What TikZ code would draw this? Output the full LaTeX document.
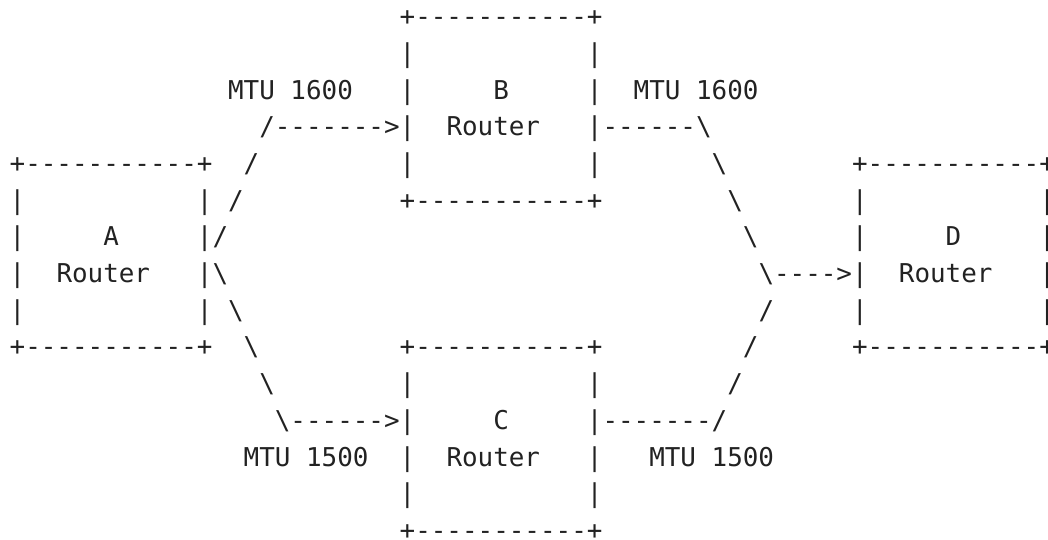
\documentclass[tikz,border=0pt]{standalone}
\usepackage{fontspec}
\setmonofont{DejaVu Sans Mono}
\definecolor{ink}{HTML}{222222}

% one character cell is 1 x 1, rows count downwards
\tikzset{
  ascii/.style={anchor=base west,inner sep=0pt,outer sep=0pt,text=ink,
    font=\ttfamily\fontsize{19.43}{23}\selectfont},
  router/.pic={
    \node[ascii] (-top) at (0,0) {+-----------+};
    \foreach \r in {1,...,4} {
      \node[ascii] (-l\r) at (0,\r) {|};
      \node[ascii] (-r\r) at (12,\r) {|};
    }
    \node[ascii] (-name) at (6,2) {#1};
    \node[ascii] (-kind) at (3,3) {Router};
    \node[ascii] (-bottom) at (0,5) {+-----------+};
  }
}

\begin{document}
\begin{tikzpicture}[x=11.7pt,y=-27.525pt]
  \useasboundingbox (-0.622,-0.698) rectangle (66.558,13.989);

  % the four routers
  \pic (boxA) at (0,4) {router=A};
  \pic (boxB) at (25,0) {router=B};
  \pic (boxC) at (25,9) {router=C};
  \pic (boxD) at (54,4) {router=D};

  % A -> B -> D
  \node[ascii] (ab) at (16,3) {/------->};
  \foreach \c/\r in {15/4,14/5,13/6}
    \node[ascii] (ab\r) at (\c,\r) {/};
  \node[ascii] (bd) at (38,3) {------\textbackslash};
  \foreach \c/\r in {45/4,46/5,47/6}
    \node[ascii] (bd\r) at (\c,\r) {\textbackslash};
  \node[ascii] (bdin) at (48,7) {\textbackslash---->};

  % A -> C -> D
  \foreach \c/\r in {13/7,14/8,15/9,16/10}
    \node[ascii] (ac\r) at (\c,\r) {\textbackslash};
  \node[ascii] (ac) at (17,11) {\textbackslash------>};
  \node[ascii] (cd) at (38,11) {-------/};
  \foreach \c/\r in {46/10,47/9,48/8}
    \node[ascii] (cd\r) at (\c,\r) {/};

  % link MTUs
  \node[ascii] (mtuAB) at (14,2) {MTU 1600};
  \node[ascii] (mtuBD) at (40,2) {MTU 1600};
  \node[ascii] (mtuAC) at (15,12) {MTU 1500};
  \node[ascii] (mtuCD) at (41,12) {MTU 1500};
\end{tikzpicture}
\end{document}
